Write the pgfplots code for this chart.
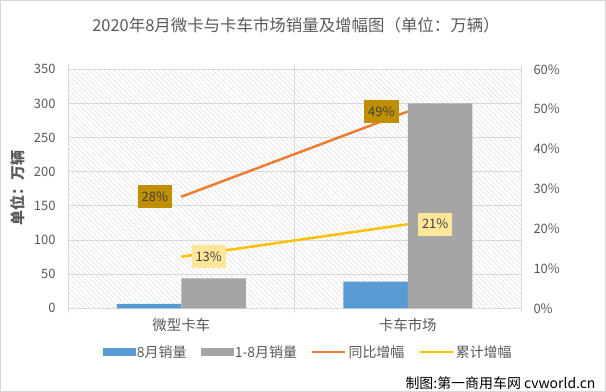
\documentclass[border=0pt]{standalone}
\usepackage{pgfplots}
\pgfplotsset{compat=1.18}
\usepackage{fontspec}
\setmainfont{Noto Sans CJK SC}
\usetikzlibrary{patterns.meta}
\definecolor{cblue}{HTML}{5B9BD5}
\definecolor{cgray}{HTML}{A5A5A5}
\definecolor{corange}{HTML}{ED7D31}
\definecolor{cyellow}{HTML}{FFC000}
\definecolor{cdgold}{HTML}{BF8F00}
\definecolor{clgold}{HTML}{FFE699}
\definecolor{labc}{HTML}{595959}
\definecolor{labd}{HTML}{404040}
\definecolor{gridc}{HTML}{D9D9D9}
\definecolor{hatchc}{HTML}{DCDCDC}
\begin{document}
\begin{tikzpicture}
\path[use as bounding box] (0bp,0bp) rectangle (606bp,392bp);
\draw[gridc] (0.5bp,0.5bp) rectangle (605.5bp,391.5bp);
\node[text=labc, font=\fontsize{16.5}{18}\selectfont] at (296bp,367bp) {2020年8月微卡与卡车市场销量及增幅图（单位：万辆）};
\node[text=labc, rotate=90, font=\fontsize{15}{17}\selectfont\bfseries] at (18bp,204bp) {单位：万辆};
\node[anchor=east, text=black, font=\fontsize{14}{16}\selectfont] at (599bp,9bp) {制图:第一商用车网 cvworld.cn};
\begin{axis}[
  at={(68bp,83.7bp)}, anchor=south west, scale only axis,
  width=453bp, height=239bp,
  xmin=-0.5, xmax=1.5, ymin=0, ymax=350,
  ytick={0,50,...,350},
  xtick={0,1}, xticklabels={微型卡车,卡车市场},
  major tick length=0,
  extra x ticks={-0.5,0.5,1.5}, extra x tick labels={},
  extra x tick style={grid=major, major tick length=5bp, tick align=outside, major tick style={draw=gridc, line width=0.8bp}},
  ymajorgrids, grid style={draw=gridc, line width=0.8bp},
  axis line style={draw=gridc, line width=0.8bp},
  axis background/.style={pattern={Lines[angle=-45,distance=3.5bp,line width=0.5bp]}, pattern color=hatchc},
  ybar=0pt, bar width=64.5bp,
  tick label style={font=\fontsize{13}{15}\selectfont, text=labc},
  xticklabel style={font=\fontsize{14.5}{16}\selectfont, yshift=-6bp},
  yticklabel style={xshift=-9bp},
  /pgf/number format/assume math mode=true,
]
\addplot[fill=cblue, draw=none] coordinates {(0,6.3) (1,39)};
\addplot[fill=cgray, draw=none] coordinates {(0,44) (1,300)};
\end{axis}
\begin{axis}[
  at={(68bp,83.7bp)}, anchor=south west, scale only axis,
  width=453bp, height=239bp,
  xmin=-0.5, xmax=1.5, ymin=0, ymax=60,
  axis y line*=right, axis x line=none,
  axis line style={draw=none},
  ytick={0,10,...,60},
  yticklabel={\pgfmathprintnumber{\tick}\%},
  major tick length=0,
  tick label style={font=\fontsize{13}{15}\selectfont, text=labc},
  yticklabel style={xshift=9bp},
  /pgf/number format/assume math mode=true,
  legend style={at={(0.53,-0.183)}, anchor=center, draw=none, fill=none,
    legend columns=4, font=\fontsize{14}{16}\selectfont, text=labc,
    /tikz/every even column/.append style={column sep=12bp}},
]
\addlegendimage{legend image code/.code={\fill[cblue] (0bp,-3.5bp) rectangle (32bp,3.5bp);}}
\addlegendimage{legend image code/.code={\fill[cgray] (0bp,-3.5bp) rectangle (32bp,3.5bp);}}
\addlegendimage{legend image code/.code={\draw[corange,line width=2.5bp] (0bp,0bp) -- (33bp,0bp);}}
\addlegendimage{legend image code/.code={\draw[cyellow,line width=2.5bp] (0bp,0bp) -- (33bp,0bp);}}
\addplot[forget plot, corange, line width=2.5bp, mark=none,
  point meta=y,
  nodes near coords={\pgfmathprintnumber[fixed,precision=0]{\pgfplotspointmeta}\%},
  every node near coord/.append style={anchor=east, xshift=-8bp, fill=cdgold, text=labd,
    minimum height=23bp, inner xsep=4bp, font=\fontsize{13}{15}\selectfont}]
  coordinates {(0,28.0) (1,49.4)};
\addplot[forget plot, cyellow, line width=2.5bp, mark=none,
  point meta=y,
  nodes near coords={\pgfmathprintnumber[fixed,precision=0]{\pgfplotspointmeta}\%},
  every node near coord/.append style={anchor=west, xshift=9bp, fill=clgold, text=labd,
    minimum height=23bp, inner xsep=4bp, font=\fontsize{13}{15}\selectfont}]
  coordinates {(0,12.95) (1,21.1)};
\legend{8月销量,1-8月销量,同比增幅,累计增幅}
\end{axis}
\end{tikzpicture}
\end{document}
